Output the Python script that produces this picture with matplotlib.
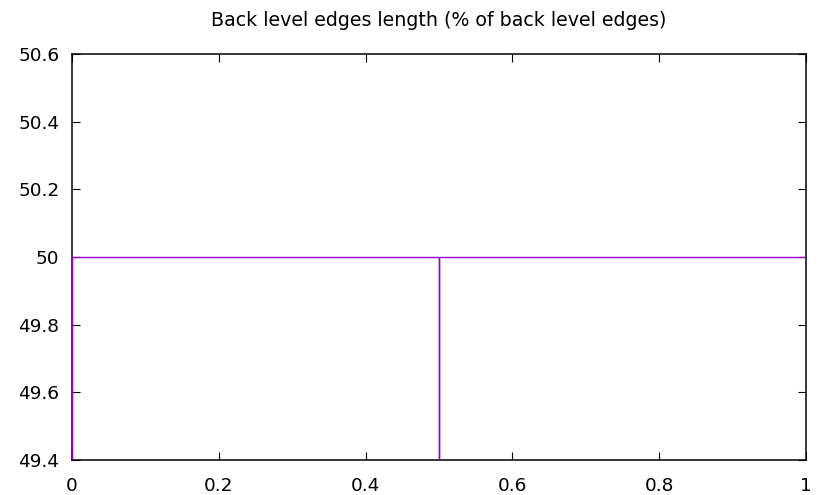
import matplotlib
matplotlib.use("Agg")
import matplotlib.pyplot as plt

plt.rcParams["font.family"] = ["DejaVu Sans"]

# bin left edges, bin width and percentages
bin_left = [0.0, 0.5]
bin_width = 0.5
percent = [50, 50]
xticks = [0, 0.2, 0.4, 0.6, 0.8, 1]
yticks = [49.4, 49.6, 49.8, 50, 50.2, 50.4, 50.6]

fig = plt.figure(figsize=(8.2, 4.95), dpi=100)
ax = fig.add_axes([72/820, 35/495, (806-72)/820, (460-54)/495])

ax.bar(bin_left, percent, width=bin_width, align="edge", fill=False,
       edgecolor="#9400d3", linewidth=1.0, zorder=3)

ax.set_xlim(0, 1)
ax.set_ylim(49.4, 50.6)
ax.set_xticks(xticks)
ax.set_xticklabels(["0", "0.2", "0.4", "0.6", "0.8", "1"])
ax.set_yticks(yticks)
ax.set_yticklabels(["49.4", "49.6", "49.8", "50", "50.2", "50.4", "50.6"])
ax.tick_params(direction="in", top=True, right=True, length=6, width=0.8,
               labelsize=13.3)
ax.tick_params(axis="y", pad=9)
ax.tick_params(axis="x", pad=12)
for s in ax.spines.values():
    s.set_linewidth(1.1)

ax.set_title("Back level edges length (% of back level edges)",
             fontsize=13.7, pad=20)

fig.savefig("out.png", dpi=100)
